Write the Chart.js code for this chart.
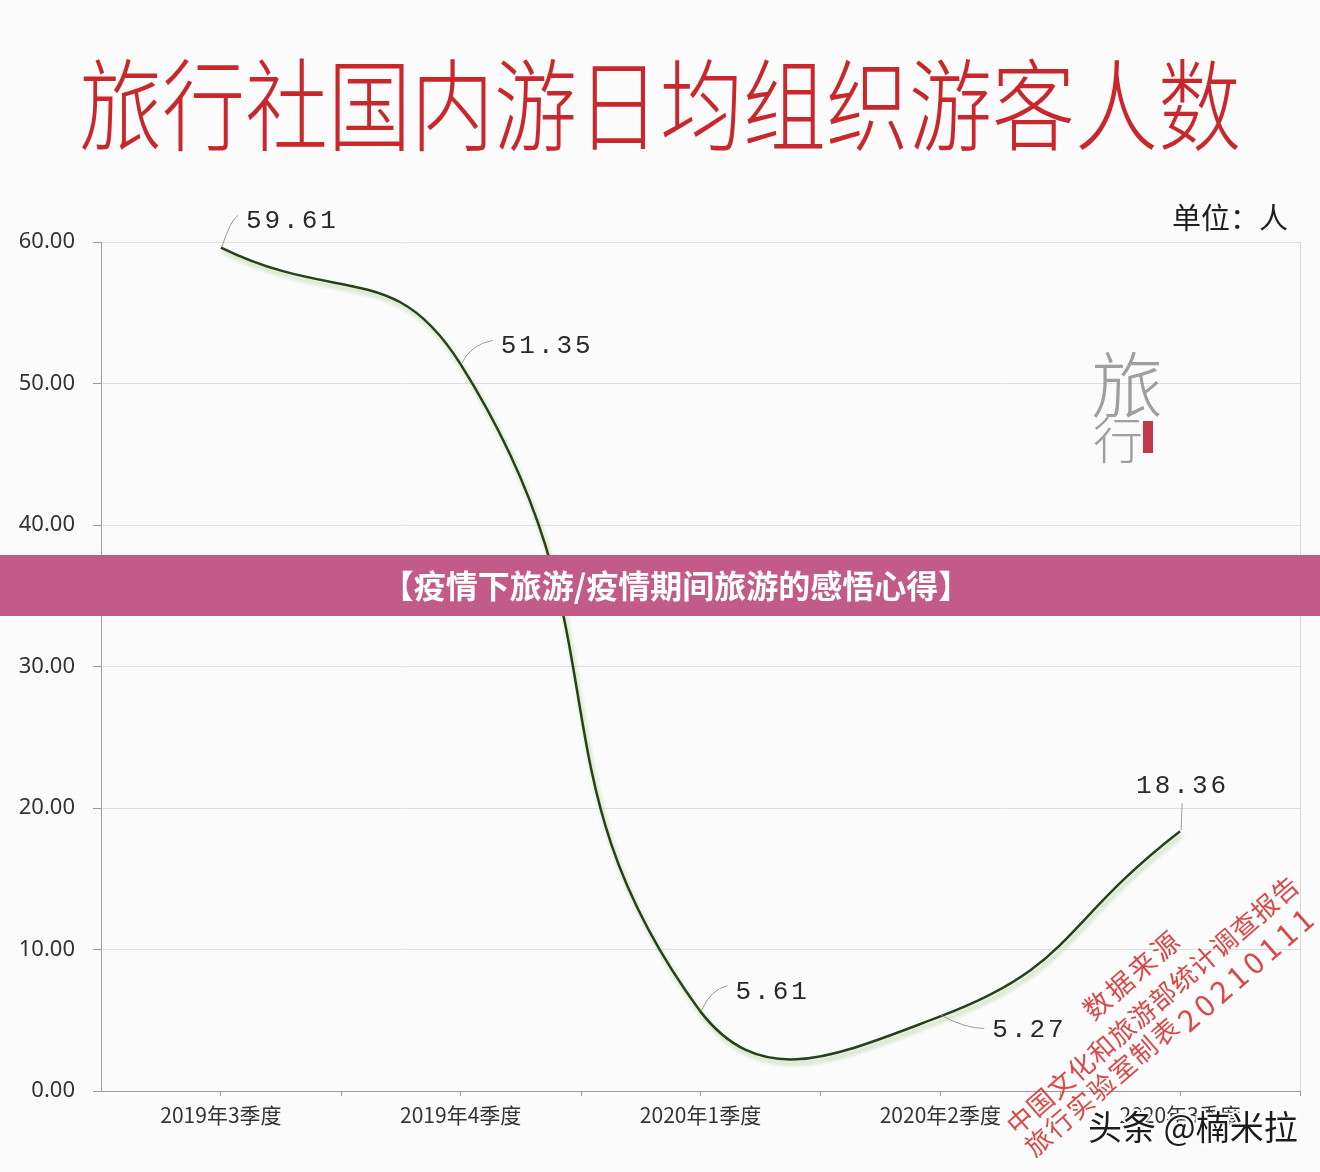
<!DOCTYPE html>
<html>
<head>
<meta charset="utf-8">
<script src="https://cdn.jsdelivr.net/npm/chart.js@4.4.1/dist/chart.umd.min.js"></script>
<style>
  html, body { margin: 0; padding: 0; background: #fbfbfc; }
  #wrap { position: relative; width: 1320px; height: 1172px; overflow: hidden; }
  #title {
    position: absolute; left: 0; top: 28px; width: 1320px; text-align: center;
    font-family: "Noto Sans CJK SC", sans-serif; font-weight: 300; font-size: 83px; color: #c8272b;
    transform: scaleY(1.2); transform-origin: top center; letter-spacing: 0px;
  }
  canvas { position: absolute; left: 0; top: 0; }
</style>
</head>
<body>
<div id="wrap">
  <div id="title">旅行社国内游日均组织游客人数</div>
  <canvas id="myChart" width="1320" height="1172"></canvas>
</div>
<script>
// data
var quarters = ['2019年3季度', '2019年4季度', '2020年1季度', '2020年2季度', '2020年3季度'];
var visitorsPerDay = [59.61, 51.35, 5.61, 5.27, 18.36];
var yTicks = [0, 10, 20, 30, 40, 50, 60];

// where each value label sits relative to its point (dx, dy)
var labelOffsets = [[25, -26], [40, -18], [35, -20], [52, 14], [-44, -45]];

var lineGlow = {
    id: 'lineGlow',
    beforeDatasetDraw: function (chart) {
        var ctx = chart.ctx;
        ctx.save();
        ctx.shadowColor = 'rgba(180, 210, 150, 0.9)';
        ctx.shadowBlur = 4;
        ctx.shadowOffsetX = 2;
        ctx.shadowOffsetY = 4;
    },
    afterDatasetDraw: function (chart) {
        chart.ctx.restore();
    }
};

var extras = {
    id: 'extras',
    beforeDatasetsDraw: function (chart) {
        var ctx = chart.ctx;
        var area = chart.chartArea;
        var x = chart.scales.x;
        ctx.save();
        // right border of plot
        ctx.strokeStyle = '#d6d7dd';
        ctx.lineWidth = 1;
        ctx.beginPath();
        ctx.moveTo(area.right + 0.5, area.top);
        ctx.lineTo(area.right + 0.5, area.bottom);
        ctx.stroke();
        // boundary tick marks between categories
        var step = x.getPixelForValue(1) - x.getPixelForValue(0);
        ctx.strokeStyle = '#9a9aa2';
        for (var i = 0; i < quarters.length; i++) {
            var px = Math.round(x.getPixelForValue(i) + step / 2) + 0.5;
            ctx.beginPath();
            ctx.moveTo(px, area.bottom);
            ctx.lineTo(px, area.bottom + 5);
            ctx.stroke();
        }
        // "旅行" ornament
        ctx.fillStyle = 'rgba(120,120,120,0.7)';
        ctx.font = '200 72px "Noto Sans CJK SC"';
        ctx.textAlign = 'center';
        ctx.textBaseline = 'middle';
        ctx.fillText('旅', 1127, 385);
        ctx.font = '200 50px "Noto Sans CJK SC"';
        ctx.fillText('行', 1118, 440);
        ctx.fillStyle = '#c0394a';
        ctx.fillRect(1143, 421, 10, 32);
        ctx.restore();
    },
    afterDraw: function (chart) {
        var ctx = chart.ctx;
        var meta = chart.getDatasetMeta(0);
        ctx.save();

        // value labels with leader lines
        ctx.font = '26px "Liberation Mono"';
        ctx.letterSpacing = '3px';
        ctx.textBaseline = 'middle';
        ctx.textAlign = 'left';
        meta.data.forEach(function (pt, i) {
            var off = labelOffsets[i];
            var tx = pt.x + off[0], ty = pt.y + off[1];
            ctx.strokeStyle = '#9a9a9a';
            ctx.lineWidth = 1;
            ctx.beginPath();
            ctx.moveTo(pt.x + 1, pt.y - 1);
            if (i === 4) {
                ctx.lineTo(pt.x + 2, pt.y - 28);
            } else if (i === 3) {
                ctx.quadraticCurveTo(pt.x + 25, pt.y + 12, off[0] + pt.x - 8, ty - 2);
            } else {
                ctx.quadraticCurveTo(pt.x + 10, ty - 2, tx - 8, ty - 6);
            }
            ctx.stroke();
            ctx.fillStyle = '#2a2a2a';
            ctx.fillText(visitorsPerDay[i].toFixed(2), tx, ty);
        });
        ctx.letterSpacing = '0px';

        // unit
        ctx.fillStyle = '#1e1e1e';
        ctx.font = '29px "Noto Sans CJK SC"';
        ctx.textAlign = 'right';
        ctx.fillText('单位：人', 1288, 218);

        // banner across the middle
        ctx.fillStyle = '#c25b88';
        ctx.fillRect(0, 555, 1320, 61);
        ctx.fillStyle = '#ffffff';
        ctx.font = 'bold 32px "Noto Sans CJK SC"';
        ctx.textAlign = 'center';
        ctx.fillText('【疫情下旅游/疫情期间旅游的感悟心得】', 676, 586);

        // red stamp
        var ang = -41 * Math.PI / 180;
        var stamp = [
            ['数据来源', 1097, 1005, 27, 3],
            ['中国文化和旅游部统计调查报告', 1020, 1120, 26, 1],
            ['旅行实验室制表', 1038, 1142, 26, 2],
            ['20210111', 1193, 1015, 30, 5]
        ];
        ctx.fillStyle = 'rgba(210, 40, 40, 0.85)';
        stamp.forEach(function (s) {
            ctx.save();
            ctx.translate(s[1], s[2]);
            ctx.rotate(ang);
            ctx.font = s[3] + 'px "Noto Sans CJK SC"';
            ctx.letterSpacing = s[4] + 'px';
            ctx.textAlign = 'left';
            ctx.fillText(s[0], -s[3] / 2, 0);
            ctx.restore();
        });

        // author mark
        ctx.font = '34px "Noto Sans CJK SC"';
        ctx.textAlign = 'left';
        ctx.lineWidth = 4;
        ctx.strokeStyle = 'rgba(255,255,255,0.95)';
        ctx.strokeText('头条 @楠米拉', 1088, 1127);
        ctx.fillStyle = '#1c1c1c';
        ctx.fillText('头条 @楠米拉', 1088, 1127);
        ctx.restore();
    }
};

var ctx = document.getElementById('myChart');
var chart = new Chart(ctx, {
    type: 'line',
    data: {
        labels: quarters,
        datasets: [{
            label: '旅行社国内游日均组织游客人数',
            data: visitorsPerDay,
            borderColor: '#27421a',
            borderWidth: 2.5,
            pointRadius: 0,
            tension: 0.5,
            fill: false
        }]
    },
    options: {
        responsive: false,
        animation: false,
        layout: { padding: { top: 242, right: 20, left: 0, bottom: 0 } },
        plugins: {
            legend: { display: false },
            tooltip: { enabled: false }
        },
        scales: {
            x: {
                offset: true,
                grid: { offset: false, drawOnChartArea: false, tickLength: 5, color: '#9a9aa2' },
                border: { color: '#9a9aa2' },
                ticks: {
                    color: '#333',
                    font: { family: '"Noto Sans CJK SC"', size: 21 },
                    padding: 6,
                    maxRotation: 0
                },
                afterFit: function (scale) { scale.height = 81; }
            },
            y: {
                min: 0,
                max: 60,
                afterBuildTicks: function (scale) {
                    scale.ticks = yTicks.map(function (v) { return { value: v }; });
                },
                grid: { color: '#dddee4', tickLength: 8, tickColor: '#9a9aa2' },
                border: { color: '#9a9aa2' },
                ticks: {
                    color: '#333',
                    font: { family: '"Noto Sans"', size: 22 },
                    padding: 18,
                    callback: function (v) { return Number(v).toFixed(2); }
                },
                afterFit: function (scale) { scale.width = 101; }
            }
        }
    },
    plugins: [lineGlow, extras]
});
</script>
</body>
</html>
